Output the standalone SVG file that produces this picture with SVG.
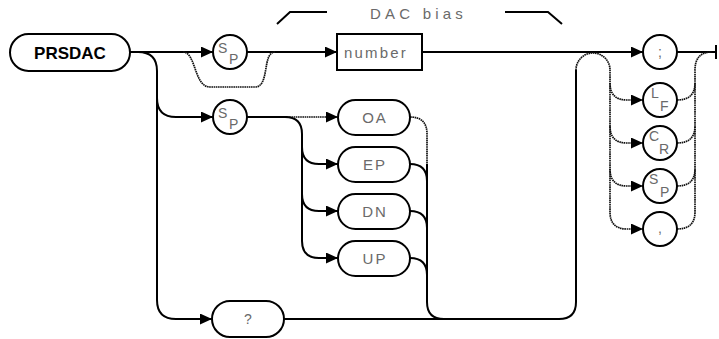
<svg xmlns="http://www.w3.org/2000/svg" width="719" height="339" viewBox="0 0 719 339">
<style>
.bg{fill:#fff}
.ln{fill:none;stroke:#000;stroke-width:2}
.th{fill:none;stroke:#111;stroke-width:1.7;stroke-dasharray:1.6 0.6}
.box{fill:#fff;stroke:#000;stroke-width:2}
.t{font-family:"Liberation Sans",Arial,sans-serif;fill:#6a6a6a;font-size:15px}
.s{font-family:"Liberation Sans",Arial,sans-serif;fill:#6a6a6a;font-size:14px}
.b{font-family:"Liberation Sans",Arial,sans-serif;fill:#000;font-size:17px;font-weight:bold}
</style>
<defs>
<marker id="ar" markerUnits="userSpaceOnUse" markerWidth="13" markerHeight="11" refX="12" refY="5.5" orient="auto">
<path d="M0,0 L12,5.5 L0,11 z" fill="#000"/>
</marker>
</defs>
<rect class="bg" x="0" y="0" width="719" height="339"/>
<g id="connectors">
<path class="ln" d="M130,52 H213" marker-end="url(#ar)"/>
<path class="ln" d="M247,52 H337" marker-end="url(#ar)"/>
<path class="ln" d="M422,52 H643" marker-end="url(#ar)"/>
<path class="ln" d="M677,52 H716 M716,45 V59"/>
<path class="th" d="M183,52 C196,52 194,87 210,87 H255 C270,87 262,52 275,52"/>
<path class="ln" d="M138,52 Q157,52 157,71 V300 Q157,319 176,319 H212" marker-end="url(#ar)"/>
<path class="ln" d="M157,98 Q157,117 176,117 H213" marker-end="url(#ar)"/>
<path class="ln" d="M247,117 H287"/>
<path class="th" d="M287,117 H338" marker-end="url(#ar)"/>
<path class="ln" d="M285,117 Q302,117 302,134 V241 Q302,258 319,258 H338" marker-end="url(#ar)"/>
<path class="ln" d="M302,147 Q302,164 319,164 H338" marker-end="url(#ar)"/>
<path class="ln" d="M302,194 Q302,211 319,211 H338" marker-end="url(#ar)"/>
<path class="th" d="M410,117 Q427,117 427,134 V164"/>
<path class="ln" d="M427,164 V302 Q427,319 444,319"/>
<path class="ln" d="M410,164 Q427,164 427,181"/>
<path class="ln" d="M410,211 Q427,211 427,228"/>
<path class="ln" d="M410,258 Q427,258 427,275"/>
<path class="ln" d="M284,319 H559 Q576,319 576,302 V70"/>
<path class="th" d="M576,70 A17,17 0 0 1 610,70 V212 Q610,229 627,229 H643" marker-end="url(#ar)"/>
<path class="th" d="M610,83 Q610,100 627,100 H643" marker-end="url(#ar)"/>
<path class="th" d="M610,126 Q610,143 627,143 H643" marker-end="url(#ar)"/>
<path class="th" d="M610,169 Q610,186 627,186 H643" marker-end="url(#ar)"/>
<path class="th" d="M677,229 Q695,229 695,212 V70 Q695,52 712,52"/>
<path class="th" d="M677,100 Q695,100 695,83"/>
<path class="th" d="M677,143 Q695,143 695,126"/>
<path class="th" d="M677,186 Q695,186 695,169"/>
</g>
<g id="PRSDAC">
<rect class="box" x="10" y="34" width="120" height="37" rx="18.5"/>
<text class="b" x="70" y="58.5" text-anchor="middle">PRSDAC</text>
</g>
<g id="sp1">
<circle class="box" cx="230" cy="52" r="17"/>
<text class="s" x="218" y="53">S</text><text class="s" x="229" y="64">P</text>
</g>
<g id="number">
<rect class="box" x="337" y="34" width="85" height="36"/>
<text class="t" x="344" y="58" letter-spacing="2.2" font-size="16">number</text>
</g>
<g id="label">
<text class="t" x="370" y="19" letter-spacing="4.2">DAC bias</text>
<path class="ln" d="M277,24 L290,12 H327 M505,12 H548 L562,24" stroke-width="1.6"/>
</g>
<g id="sp2">
<circle class="box" cx="230" cy="117" r="17"/>
<text class="s" x="218" y="118">S</text><text class="s" x="229" y="129">P</text>
</g>
<g id="OA"><rect class="box" x="338" y="100" width="72" height="35" rx="17.5"/><text class="t" x="375" y="123" text-anchor="middle" letter-spacing="2">OA</text></g>
<g id="EP"><rect class="box" x="338" y="147" width="72" height="35" rx="17.5"/><text class="t" x="375" y="170" text-anchor="middle" letter-spacing="2">EP</text></g>
<g id="DN"><rect class="box" x="338" y="194" width="72" height="35" rx="17.5"/><text class="t" x="375" y="217" text-anchor="middle" letter-spacing="2">DN</text></g>
<g id="UP"><rect class="box" x="338" y="241" width="72" height="35" rx="17.5"/><text class="t" x="375" y="264" text-anchor="middle" letter-spacing="2">UP</text></g>
<g id="query"><rect class="box" x="212" y="301" width="72" height="36" rx="18"/><text class="s" x="248" y="324" text-anchor="middle">?</text></g>
<g id="semicolon"><circle class="box" cx="660" cy="52" r="17"/><text class="s" x="660" y="57" text-anchor="middle">;</text></g>
<g id="LF"><circle class="box" cx="660" cy="100" r="17"/><text class="s" x="651" y="98">L</text><text class="s" x="660" y="111">F</text></g>
<g id="CR"><circle class="box" cx="660" cy="143" r="17"/><text class="s" x="649" y="141">C</text><text class="s" x="659" y="154">R</text></g>
<g id="SP3"><circle class="box" cx="660" cy="186" r="17"/><text class="s" x="649" y="184">S</text><text class="s" x="660" y="197">P</text></g>
<g id="comma"><circle class="box" cx="660" cy="229" r="17"/><text class="s" x="660" y="233" text-anchor="middle">,</text></g>
</svg>
